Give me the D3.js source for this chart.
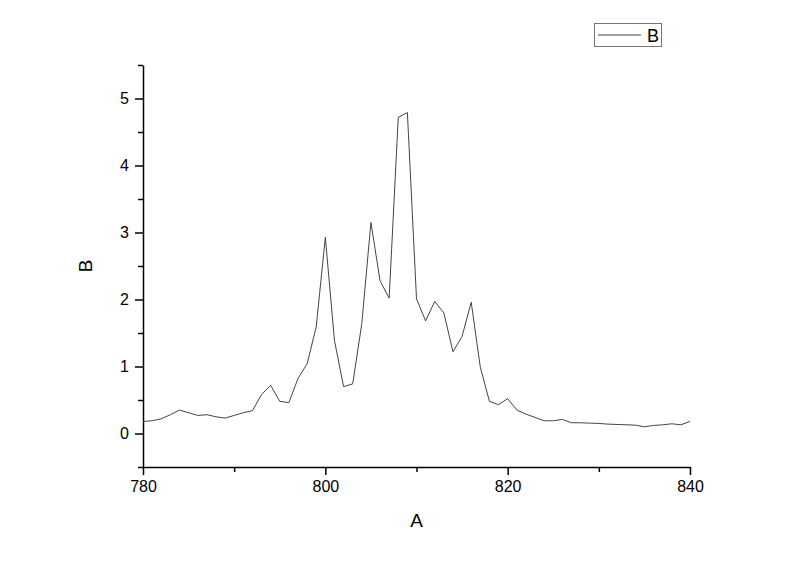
<!DOCTYPE html>
<html>
<head>
<meta charset="utf-8">
<script src="https://cdn.jsdelivr.net/npm/d3@7"></script>
<style>
  body { margin: 0; background: #fff; }
  svg { display: block; font-family: "Liberation Sans", Arial, sans-serif; }
</style>
</head>
<body>
<svg id="chart" width="800" height="561"></svg>
<script>
const xValues = d3.range(780, 841);
const yValues = [
  0.18, 0.19, 0.22, 0.28, 0.35, 0.31, 0.27, 0.28, 0.25, 0.23,
  0.27, 0.31, 0.34, 0.58, 0.72, 0.48, 0.46, 0.82, 1.04, 1.59,
  2.93, 1.39, 0.70, 0.74, 1.64, 3.15, 2.28, 2.02, 4.72, 4.79,
  2.01, 1.68, 1.97, 1.80, 1.22, 1.45, 1.96, 0.99, 0.48, 0.43,
  0.52, 0.35, 0.29, 0.24, 0.19, 0.19, 0.21, 0.16, 0.16, 0.155,
  0.15, 0.14, 0.135, 0.13, 0.125, 0.10, 0.12, 0.13, 0.145, 0.13,
  0.18
];
const xTicks = [780, 800, 820, 840];
const xMinorTicks = [790, 810, 830];
const yTicks = [0, 1, 2, 3, 4, 5];
const yMinorTicks = [-0.5, 0.5, 1.5, 2.5, 3.5, 4.5, 5.5];
const xTitle = "A";
const yTitle = "B";
const seriesName = "B";

const data = xValues.map((x, i) => ({x, y: yValues[i]}));
const svg = d3.select("#chart");
const mLeft = 143, mRight = 690, mTop = 65, mBottom = 467;

const x = d3.scaleLinear().domain([780, 840]).range([mLeft, mRight]);
const y = d3.scaleLinear().domain([-0.5, 5.5]).range([mBottom, mTop]);

// minor ticks
svg.append("g").attr("transform", `translate(0,${mBottom})`)
  .call(d3.axisBottom(x).tickValues(xMinorTicks).tickSize(5).tickFormat(""))
  .call(g => g.select(".domain").remove())
  .call(g => g.selectAll("line").attr("stroke", "#000").attr("stroke-width", 1.5));
svg.append("g").attr("transform", `translate(${mLeft},0)`)
  .call(d3.axisLeft(y).tickValues(yMinorTicks).tickSize(5).tickFormat(""))
  .call(g => g.select(".domain").remove())
  .call(g => g.selectAll("line").attr("stroke", "#000").attr("stroke-width", 1.5));

// major axes
svg.append("g").attr("transform", `translate(0,${mBottom})`)
  .call(d3.axisBottom(x).tickValues(xTicks).tickSize(8).tickPadding(6).tickSizeOuter(0).tickFormat(d3.format("d")))
  .call(g => g.select(".domain").attr("stroke", "#000").attr("stroke-width", 1.5))
  .call(g => g.selectAll("line").attr("stroke", "#000").attr("stroke-width", 1.5))
  .call(g => g.selectAll("text").attr("font-size", 16).attr("fill", "#000")
    .attr("font-family", "Liberation Sans, Arial, sans-serif"));
svg.append("g").attr("transform", `translate(${mLeft},0)`)
  .call(d3.axisLeft(y).tickValues(yTicks).tickSize(8).tickPadding(6).tickSizeOuter(0).tickFormat(d3.format("d")))
  .call(g => g.select(".domain").attr("stroke", "#000").attr("stroke-width", 1.5))
  .call(g => g.selectAll("line").attr("stroke", "#000").attr("stroke-width", 1.5))
  .call(g => g.selectAll("text").attr("font-size", 16).attr("fill", "#000")
    .attr("font-family", "Liberation Sans, Arial, sans-serif"));

// line
svg.append("path").datum(data)
  .attr("fill", "none")
  .attr("stroke", "#444")
  .attr("stroke-width", 1)
  .attr("d", d3.line().x(d => x(d.x)).y(d => y(d.y)));

// axis titles
svg.append("text").attr("x", (mLeft + mRight) / 2).attr("y", 527)
  .attr("text-anchor", "middle").attr("font-size", 19).text(xTitle);
svg.append("text").attr("transform", `translate(92,${(mTop + mBottom) / 2}) rotate(-90)`)
  .attr("text-anchor", "middle").attr("font-size", 19).text(yTitle);

// legend
const lg = svg.append("g");
lg.append("rect").attr("x", 594.5).attr("y", 23.5).attr("width", 67).attr("height", 23)
  .attr("fill", "#fff").attr("stroke", "#777").attr("stroke-width", 1);
lg.append("line").attr("x1", 598).attr("x2", 641).attr("y1", 35).attr("y2", 35)
  .attr("stroke", "#444").attr("stroke-width", 1);
lg.append("text").attr("x", 647).attr("y", 42).attr("font-size", 18).text(seriesName);
</script>
</body>
</html>
